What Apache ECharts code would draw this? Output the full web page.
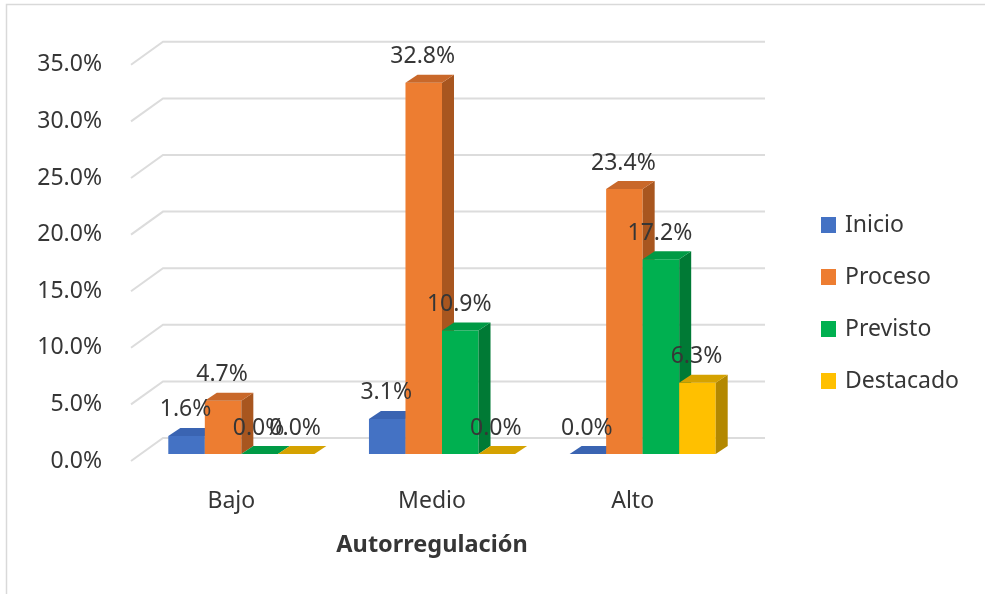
<!DOCTYPE html>
<html>
<head>
<meta charset="utf-8">
<script src="https://cdn.jsdelivr.net/npm/echarts@6/dist/echarts.min.js"></script>
<style>
  html, body { margin: 0; padding: 0; background: #ffffff; }
  #chart { width: 985px; height: 594px; }
</style>
</head>
<body>
<div id="chart"></div>
<script>
// Categories and series values (percent)
const categories = ['Bajo', 'Medio', 'Alto'];
const inicio = [1.6, 3.1, 0.0];
const proceso = [4.7, 32.8, 23.4];
const previsto = [0.0, 10.9, 17.2];
const destacado = [0.0, 0.0, 6.3];
const yTicks = [0, 5, 10, 15, 20, 25, 30, 35];

const seriesNames = ['Inicio', 'Proceso', 'Previsto', 'Destacado'];
const seriesValues = [inicio, proceso, previsto, destacado];

// face colours: front, top, side
const palette = [
  { front: '#4472C4', top: '#3a64b2', side: '#2f5597' },
  { front: '#ED7D31', top: '#c9682a', side: '#a8561f' },
  { front: '#00B050', top: '#009a45', side: '#007a35' },
  { front: '#FFC000', top: '#d5a200', side: '#b38800' }
];

const FONT = '"Noto Sans", "Open Sans", sans-serif';
const TEXT = '#363636';

// oblique depth offsets (pixels)
const BAR_DX = 12, BAR_DY = -8;      // depth of one column
const WALL_DX = 32, WALL_DY = -23;   // depth of the floor/back wall

function columnRenderer(k) {
  return function (params, api) {
    const ci = api.value(0);
    const v = api.value(1);
    const base = api.coord([ci, 0]);
    const topPt = api.coord([ci, v]);
    const band = api.size([1, 0])[0];
    const w = band * 0.182;
    const x = base[0] - 2 * w + k * w;
    const y0 = base[1];
    const yT = topPt[1];
    const c = palette[k];
    const children = [];
    if (y0 - yT > 0.3) {
      children.push({
        type: 'rect',
        shape: { x: x, y: yT, width: w, height: y0 - yT },
        style: { fill: c.front }
      });
      children.push({
        type: 'polygon',
        shape: { points: [[x + w, yT], [x + w + BAR_DX, yT + BAR_DY], [x + w + BAR_DX, y0 + BAR_DY], [x + w, y0]] },
        style: { fill: c.side }
      });
    }
    children.push({
      type: 'polygon',
      shape: { points: [[x, yT], [x + w, yT], [x + w + BAR_DX, yT + BAR_DY], [x + BAR_DX, yT + BAR_DY]] },
      style: { fill: c.top }
    });
    children.push({
      type: 'text',
      z2: 100,
      style: {
        text: v.toFixed(1) + '%',
        x: x + w / 2 - 1,
        y: yT - 26,
        align: 'center',
        verticalAlign: 'middle',
        fill: TEXT,
        font: '23px ' + FONT
      }
    });
    return { type: 'group', children: children };
  };
}

// side and back wall lines at each tick
function wallRenderer(params, api) {
  const cs = params.coordSys;
  const v = api.value(0);
  const y = api.coord([0, v])[1];
  const xl = cs.x, xr = cs.x + cs.width;
  return {
    type: 'polyline',
    shape: { points: [[xl, y], [xl + WALL_DX, y + WALL_DY], [xr + WALL_DX, y + WALL_DY]] },
    style: { stroke: '#dcdcdc', lineWidth: 2, fill: null }
  };
}

const barSeries = seriesNames.map(function (name, k) {
  return {
    name: name,
    type: 'custom',
    xAxisIndex: 0,
    yAxisIndex: 0,
    itemStyle: { color: palette[k].front },
    renderItem: columnRenderer(k),
    encode: { x: 0, y: 1 },
    data: seriesValues[k].map(function (v, i) { return [i, v]; }),
    z: 3
  };
});

const option = {
  animation: false,
  backgroundColor: '#ffffff',
  graphic: [{
    type: 'rect',
    shape: { x: 6.5, y: 4.5, width: 1000, height: 620 },
    style: { fill: null, stroke: '#d9d9d9', lineWidth: 1.5 },
    silent: true
  }],
  legend: {
    orient: 'vertical',
    left: 816,
    top: 208,
    icon: 'rect',
    itemWidth: 15,
    itemHeight: 16,
    itemGap: 28,
    data: seriesNames,
    textStyle: { fontFamily: FONT, fontSize: 23, color: TEXT, lineHeight: 24, padding: [0, 0, 0, 4] }
  },
  grid: [
    // front plane of the columns
    { left: 141, width: 602, top: 57.8, height: 396.2 },
    // front edge of floor and side wall
    { left: 131, width: 602, top: 64.8, height: 396.2 }
  ],
  xAxis: [
    { type: 'category', gridIndex: 0, data: categories, show: false },
    {
      type: 'category', gridIndex: 1, data: categories,
      axisLine: { show: false }, axisTick: { show: false },
      axisLabel: { margin: 29, fontFamily: FONT, fontSize: 23, color: TEXT },
      name: 'Autorregulación',
      nameLocation: 'middle',
      nameGap: 72,
      nameTextStyle: { fontFamily: FONT, fontSize: 23.5, fontWeight: 'bold', color: TEXT }
    }
  ],
  yAxis: [
    { type: 'value', gridIndex: 0, min: 0, max: 35, interval: 5, show: false },
    {
      type: 'value', gridIndex: 1, min: 0, max: 35, interval: 5,
      axisLine: { show: false }, axisTick: { show: false }, splitLine: { show: false },
      axisLabel: {
        margin: 29, fontFamily: FONT, fontSize: 23, color: TEXT,
        formatter: function (v) { return v.toFixed(1) + '%'; }
      }
    }
  ],
  series: [{
    type: 'custom',
    xAxisIndex: 1,
    yAxisIndex: 1,
    silent: true,
    renderItem: wallRenderer,
    encode: { y: 0 },
    data: yTicks.map(function (t) { return [t]; }),
    z: 1
  }].concat(barSeries)
};

const chart = echarts.init(document.getElementById('chart'), null, { renderer: 'canvas' });
chart.setOption(option);
</script>
</body>
</html>
